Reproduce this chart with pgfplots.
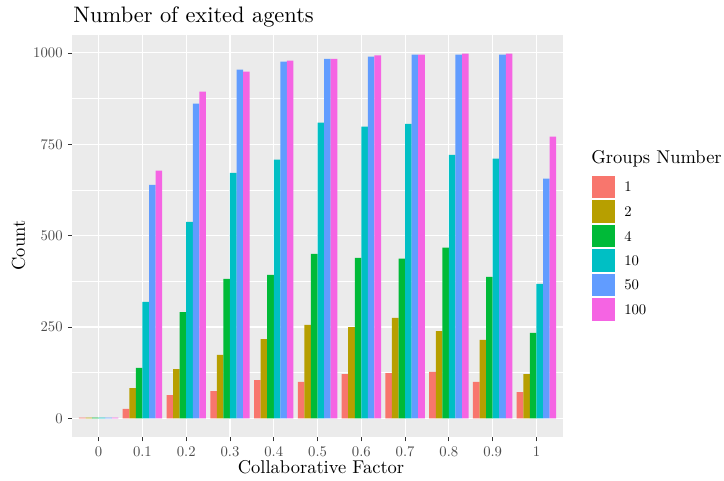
\documentclass[border=0pt]{standalone}
\usepackage{pgfplots}
\pgfplotsset{compat=1.18}
\definecolor{c1}{HTML}{F8766D}
\definecolor{c2}{HTML}{B79F00}
\definecolor{c3}{HTML}{00BA38}
\definecolor{c4}{HTML}{00BFC4}
\definecolor{c5}{HTML}{619CFF}
\definecolor{c6}{HTML}{F564E3}
\definecolor{panelbg}{HTML}{EBEBEB}
\definecolor{ticklab}{HTML}{4D4D4D}
\definecolor{tickcol}{HTML}{333333}
\newcommand{\basefont}{\fontsize{10}{12}\selectfont}
\begin{document}
\begin{tikzpicture}[x=1pt,y=1pt]
\path[use as bounding box] (0,0) rectangle (724,481);
\begin{axis}[
  at={(72.4pt,44.3pt)}, anchor=south west,
  scale only axis, width=490.3pt, height=401.7pt,
  xmin=-0.6, xmax=10.6, ymin=-50, ymax=1049,
  axis background/.style={fill=panelbg},
  axis line style={draw=none},
  xtick={0,...,10},
  xticklabels={0,0.1,0.2,0.3,0.4,0.5,0.6,0.7,0.8,0.9,1},
  ytick={0,250,500,750,1000},
  minor ytick={125,375,625,875},
  ymajorgrids, xmajorgrids, yminorgrids,
  major grid style={white, line width=1.1pt},
  minor grid style={white, line width=0.55pt},
  tick align=outside, major tick length=4.6pt, minor tick length=0pt,
  tick style={tickcol, line width=0.8pt},
  xtick pos=left, ytick pos=left,
  ticklabel style={font=\basefont, scale=1.47, text=ticklab},
  /pgf/number format/.cd, 1000 sep={}, /pgfplots/.cd,
  ybar, bar width=0.15,
  every axis plot/.append style={draw=none},
  scaled y ticks=false,
]
\addplot[fill=c1, bar shift=-0.375] coordinates {(0,2) (1,26) (2,64) (3,75) (4,105) (5,100) (6,121) (7,124) (8,127) (9,100) (10,72)};
\addplot[fill=c2, bar shift=-0.225] coordinates {(0,2) (1,83) (2,135) (3,174) (4,217) (5,256) (6,250) (7,275) (8,239) (9,215) (10,121)};
\addplot[fill=c3, bar shift=-0.075] coordinates {(0,2) (1,138) (2,291) (3,382) (4,393) (5,450) (6,439) (7,437) (8,467) (9,387) (10,234)};
\addplot[fill=c4, bar shift=0.075] coordinates {(0,2) (1,319) (2,538) (3,672) (4,708) (5,809) (6,798) (7,806) (8,721) (9,711) (10,368)};
\addplot[fill=c5, bar shift=0.225] coordinates {(0,2) (1,639) (2,861) (3,954) (4,976) (5,984) (6,990) (7,995) (8,995) (9,995) (10,656)};
\addplot[fill=c6, bar shift=0.375] coordinates {(0,2) (1,678) (2,894) (3,949) (4,979) (5,984) (6,993) (7,995) (8,998) (9,998) (10,771)};
\end{axis}
\node[anchor=base west, inner sep=0pt, font=\basefont, scale=2.24] at (73,458.3) {Number of exited agents};
\node[anchor=base, inner sep=0pt, font=\basefont, scale=1.85] at (321,7.7) {Collaborative Factor};
\node[anchor=base, inner sep=0pt, rotate=90, font=\basefont, scale=1.85] at (25,235.4) {Count};
\node[anchor=base west, inner sep=0pt, font=\basefont, scale=1.85] at (591,317) {Groups Number};
\foreach \c/\l [count=\i] in {c1/1,c2/2,c3/4,c4/10,c5/50,c6/100} {
  \fill[white] (591.5,{481-174.8-(\i-1)*24.5}) rectangle ++(24.5,-24.5);
  \fill[\c] (592.3,{481-175.6-(\i-1)*24.5}) rectangle ++(22.9,-22.9);
  \node[anchor=west, inner sep=0pt, font=\basefont, scale=1.47] at (624,{481-187.1-(\i-1)*24.5}) {\l};
}
\end{tikzpicture}
\end{document}
